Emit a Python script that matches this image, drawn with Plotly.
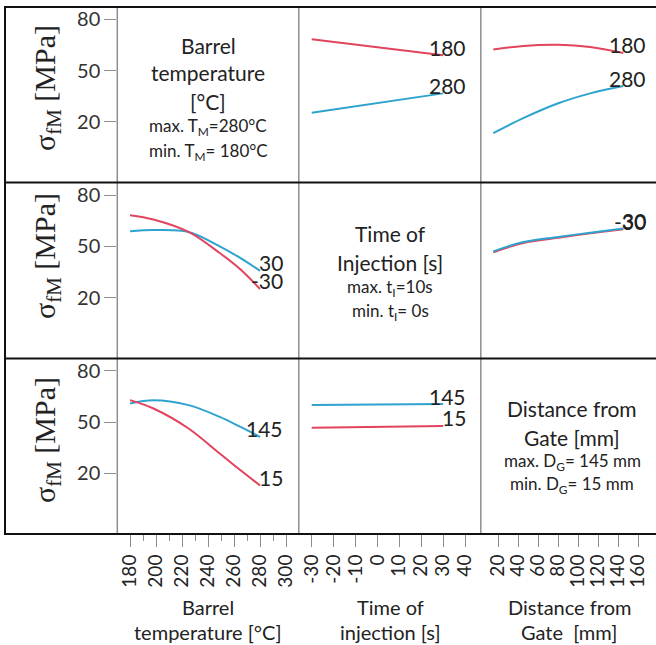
import plotly.graph_objects as go

W, H = 656, 645

# ---------------- data ----------------
temp_x = [180, 198, 225, 249, 265, 280]
time_x = [-30, 30]
dist_x = [15, 45, 80, 112, 145]

# row 1: curves for barrel temperature 180 (red) / 280 (blue)
r1_time_180 = [68.4, 59.0]
r1_time_280 = [25.4, 36.7]
r1_dist_180 = [62.4, 64.5, 65.2, 63.9, 60.4]
r1_dist_280 = [13.4, 22.2, 30.9, 36.7, 41.0]

# row 2: curves for time of injection -30 (red) / 30 (blue)
r2_temp_m30 = [68.2, 65.7, 58.4, 46.1, 36.5, 25.1]
r2_temp_30 = [58.8, 59.5, 58.4, 50.0, 43.1, 35.7]
r2_dist_m30 = [46.5, 52.0, 55.0, 57.6, 60.0]
r2_dist_30 = [47.1, 52.5, 55.5, 58.0, 60.4]

# row 3: curves for distance from gate 15 (red) / 145 (blue)
r3_temp_15 = [62.9, 58.0, 46.3, 31.6, 21.8, 12.9]
r3_temp_145 = [61.0, 62.9, 60.0, 53.1, 47.2, 41.4]
r3_time_15 = [46.7, 47.8]
r3_time_145 = [60.0, 60.6]

temp_ticks = [180, 200, 220, 240, 260, 280, 300]
time_ticks = [-30, -20, -10, 0, 10, 20, 30, 40]
dist_ticks = [20, 40, 60, 80, 100, 120, 140, 160]
y_ticks = [20, 50, 80]

RED = "#e2435d"
BLUE = "#2ea3cf"
TXT = "#222222"
GRAY = "#8e8e8e"
SANS = "Lato"

def px(x):
    return x / W

def py(y):
    return 1 - y / H

col_px = [(117.3, 298.8), (298.8, 480.8), (480.8, 656.0)]
row_px = [(7.0, 182.5), (182.5, 358.5), (358.5, 534.0)]
x_ranges = [[170.2, 309.8], [-35.9, 47.2], [2.5, 177.7]]
y_range = [-15.5, 87.3]

fig = go.Figure()
layout = {}

def ax_names(k):
    xr = "x" if k == 1 else f"x{k}"
    yr = "y" if k == 1 else f"y{k}"
    return xr, yr

for r in range(3):
    for c in range(3):
        k = r * 3 + c + 1
        xr, yr = ax_names(k)
        xa = "xaxis" if k == 1 else f"xaxis{k}"
        ya = "yaxis" if k == 1 else f"yaxis{k}"
        xd = dict(domain=[px(col_px[c][0]), min(1.0, px(col_px[c][1]))],
                  range=x_ranges[c], showgrid=False, zeroline=False,
                  showline=False, anchor=yr, fixedrange=True)
        if r == 2:
            tv = [temp_ticks, time_ticks, dist_ticks][c]
            xd.update(tickvals=tv, ticktext=[str(v) for v in tv],
                      ticks="outside", ticklen=12, tickwidth=1.3,
                      tickcolor=GRAY, tickangle=-90,
                      tickfont=dict(family=SANS, size=19, color=TXT),
                      showticklabels=True)
            if c == 0:
                xd["minor"] = dict(dtick=10, tick0=180, ticks="outside",
                                   ticklen=6, tickwidth=1.3, tickcolor=GRAY)
        else:
            xd.update(showticklabels=False, ticks="")
        yd = dict(domain=[py(row_px[r][1]), py(row_px[r][0])],
                  range=y_range, showgrid=False, zeroline=False,
                  showline=False, anchor=xr, fixedrange=True)
        if c == 0:
            yd.update(tickvals=y_ticks, ticktext=[str(v) for v in y_ticks],
                      ticks="outside", ticklen=12, tickwidth=1.3,
                      tickcolor=GRAY,
                      tickfont=dict(family=SANS, size=20, color="#333333"),
                      showticklabels=True)
        else:
            yd.update(showticklabels=False, ticks="")
        layout[xa] = xd
        layout[ya] = yd
        # empty trace so that every cell's axes get drawn
        fig.add_trace(go.Scatter(x=[], y=[], xaxis=xr, yaxis=yr,
                                 mode="lines", showlegend=False,
                                 hoverinfo="skip"))

def add_line(k, xs, ys, color):
    xr, yr = ax_names(k)
    fig.add_trace(go.Scatter(x=xs, y=ys, mode="lines", xaxis=xr, yaxis=yr,
                             line=dict(color=color, width=2, shape="spline"),
                             showlegend=False, hoverinfo="skip"))

annotations = []

def end_label(k, xs, ys, text):
    xr, yr = ax_names(k)
    annotations.append(dict(x=xs[-1], y=ys[-1], xref=xr, yref=yr, text=text,
                            showarrow=False, xanchor="right", yanchor="middle",
                            xshift=25, yshift=8,
                            font=dict(family=SANS, size=21, color=TXT)))

# row 1
add_line(2, time_x, r1_time_180, RED)
add_line(2, time_x, r1_time_280, BLUE)
end_label(2, time_x, r1_time_180, "180")
end_label(2, time_x, r1_time_280, "280")
add_line(3, dist_x, r1_dist_180, RED)
add_line(3, dist_x, r1_dist_280, BLUE)
end_label(3, dist_x, r1_dist_180, "180")
end_label(3, dist_x, r1_dist_280, "280")

# row 2
add_line(4, temp_x, r2_temp_30, BLUE)
add_line(4, temp_x, r2_temp_m30, RED)
end_label(4, temp_x, r2_temp_30, "30")
end_label(4, temp_x, r2_temp_m30, "-30")
add_line(6, dist_x, r2_dist_m30, RED)
add_line(6, dist_x, r2_dist_30, BLUE)
end_label(6, dist_x, r2_dist_m30, "-30")
end_label(6, dist_x, r2_dist_30, "30")

# row 3
add_line(7, temp_x, r3_temp_145, BLUE)
add_line(7, temp_x, r3_temp_15, RED)
end_label(7, temp_x, r3_temp_145, "145")
end_label(7, temp_x, r3_temp_15, "15")
add_line(8, time_x, r3_time_145, BLUE)
add_line(8, time_x, r3_time_15, RED)
end_label(8, time_x, r3_time_145, "145")
end_label(8, time_x, r3_time_15, "15")

def ptext(x, y, text, size, family=SANS, angle=0):
    annotations.append(dict(x=px(x), y=py(y), xref="paper", yref="paper",
                            text=text, showarrow=False, xanchor="center",
                            yanchor="middle", textangle=angle,
                            font=dict(family=family, size=size, color=TXT)))

# diagonal descriptions
for (x, y, t, s) in [
    (208, 45, "Barrel", 21), (208, 73, "temperature", 21), (208, 102, "[°C]", 21),
    (208, 127, "max. T<sub>M</sub>=280°C", 17), (208, 152, "min. T<sub>M</sub>= 180°C", 17),
    (390, 233, "Time of", 21), (390, 262, "Injection [s]", 21),
    (390, 288, "max. t<sub>I</sub>=10s", 17), (390, 312, "min. t<sub>I</sub>= 0s", 17),
    (572, 408, "Distance from", 21), (572, 437, "Gate [mm]", 21),
    (572, 462, "max. D<sub>G</sub>= 145 mm", 17), (572, 485, "min. D<sub>G</sub>= 15 mm", 17),
]:
    ptext(x, y, t, s)

# y titles
for yc in [88, 256, 440]:
    ptext(47, yc, "σ<sub>fM</sub> [MPa]", 30, family="Liberation Serif", angle=-90)

# bottom titles
for (x, y, t) in [
    (208, 607, "Barrel"), (208, 632, "temperature [°C]"),
    (390, 607, "Time of"), (390, 632, "injection [s]"),
    (569, 607, "Distance from"), (569, 632, "Gate  [mm]"),
]:
    ptext(x, y, t, 20)

shapes = []
# gray column lines
for x in [117.3, 298.8, 480.8]:
    shapes.append(dict(type="line", xref="paper", yref="paper",
                       x0=px(x), x1=px(x), y0=py(7), y1=py(534),
                       line=dict(color=GRAY, width=1.5)))
# black frame
shapes.append(dict(type="line", xref="paper", yref="paper",
                   x0=px(5), x1=px(5), y0=py(6), y1=py(535),
                   line=dict(color="#111111", width=2)))
for y in [7, 182.5, 358.5, 534]:
    shapes.append(dict(type="line", xref="paper", yref="paper",
                       x0=px(4), x1=1.0, y0=py(y), y1=py(y),
                       line=dict(color="#111111", width=2)))

fig.update_layout(**layout)
fig.update_layout(width=W, height=H, margin=dict(l=0, r=0, t=0, b=0),
                  paper_bgcolor="white", plot_bgcolor="white",
                  annotations=annotations, shapes=shapes, showlegend=False)

fig.write_html("out.html", config={"displayModeBar": False},
               post_script="document.body.style.margin='0';document.body.style.padding='0';")
